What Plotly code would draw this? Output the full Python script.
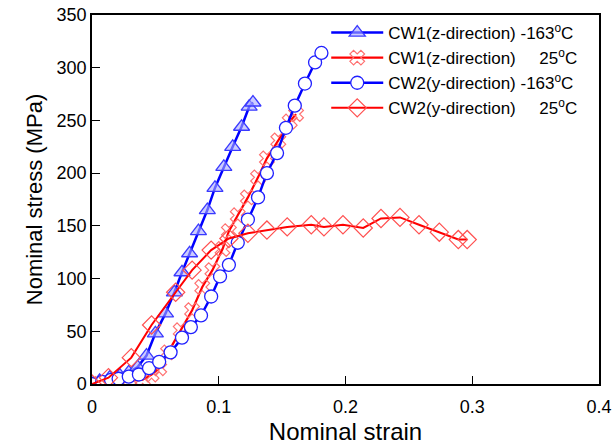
import plotly.graph_objects as go

# CW1 (z-direction) -163°C
s1_strain = [0, 0.006, 0.014, 0.022, 0.029, 0.036, 0.043, 0.050, 0.058, 0.065, 0.071, 0.077, 0.084, 0.091, 0.097, 0.104, 0.111, 0.118, 0.124, 0.127]
s1_stress = [0, 3, 6, 8, 11, 16, 27, 48, 67, 87, 106, 124, 145, 165, 186, 206, 225, 244, 263, 267]

# CW1 (z-direction) 25°C
s2_strain = [0, 0.01, 0.02, 0.03, 0.04, 0.047, 0.053, 0.06, 0.07, 0.079, 0.087, 0.095, 0.103, 0.108, 0.115, 0.123, 0.131, 0.138, 0.147, 0.156, 0.161]
s2_stress = [0, 1, 2, 3, 4, 9, 15, 30, 51, 70, 92, 108, 128, 145, 160, 177, 196, 214, 231, 249, 256]

# CW2 (y-direction) -163°C
s3_strain = [0, 0.008, 0.015, 0.021, 0.029, 0.037, 0.045, 0.053, 0.062, 0.071, 0.078, 0.086, 0.094, 0.101, 0.108, 0.115, 0.123, 0.131, 0.138, 0.146, 0.153, 0.16, 0.168, 0.176, 0.181]
s3_stress = [0, 2, 4, 5, 7, 9, 15, 21, 30, 44, 54, 65, 83, 102, 113, 134, 156, 177, 200, 219, 243, 264, 285, 305, 314]

# CW2 (y-direction) 25°C
s4_strain = [0, 0.013, 0.031, 0.047, 0.066, 0.079, 0.094, 0.108, 0.123, 0.138, 0.154, 0.173, 0.183, 0.198, 0.214, 0.228, 0.243, 0.258, 0.274, 0.289, 0.296]
s4_stress = [0, 6, 25, 56, 87, 108, 127, 138, 143, 146, 149, 151, 149, 151, 148, 157, 158, 151, 144, 137, 137]

x_ticks = [0, 0.1, 0.2, 0.3, 0.4]
x_labels = ["0", "0.1", "0.2", "0.3", "0.4"]
y_ticks = [0, 50, 100, 150, 200, 250, 300, 350]

names = [
    "CW1(z-direction) -163<sup>o</sup>C",
    "CW1(z-direction)\u00a0\u00a0\u00a0\u00a0\u00a025<sup>o</sup>C",
    "CW2(y-direction) -163<sup>o</sup>C",
    "CW2(y-direction)\u00a0\u00a0\u00a0\u00a0\u00a025<sup>o</sup>C",
]

fig = go.Figure()
fig.add_trace(go.Scatter(
    x=s1_strain, y=s1_stress, mode="lines+markers", name=names[0],
    line=dict(color="#0000ff", width=2.5),
    marker=dict(symbol="triangle-up", size=14, color="rgba(170,170,255,0.6)",
                line=dict(color="#3a3aff", width=1.3))))
fig.add_trace(go.Scatter(
    x=s2_strain, y=s2_stress, mode="lines+markers", name=names[1],
    line=dict(color="#ff0000", width=2.2),
    marker=dict(symbol="x-open", size=13, color="#ff7070",
                line=dict(color="#ff7070", width=1.2))))
fig.add_trace(go.Scatter(
    x=s3_strain, y=s3_stress, mode="lines+markers", name=names[2],
    line=dict(color="#0000ff", width=2.5),
    marker=dict(symbol="circle", size=13, color="white",
                line=dict(color="#2020ff", width=1.3))))
fig.add_trace(go.Scatter(
    x=s4_strain, y=s4_stress, mode="lines+markers", name=names[3],
    line=dict(color="#ff0000", width=2),
    marker=dict(symbol="diamond-open", size=14, color="#ff5050",
                line=dict(color="#ff5050", width=1.2))))

fig.update_layout(
    width=616, height=445,
    margin=dict(l=92, r=17, t=15, b=61),
    paper_bgcolor="white", plot_bgcolor="white",
    font=dict(family="Liberation Sans, Arial, sans-serif", color="black"),
    legend=dict(x=0.462, y=1.0, xanchor="left", yanchor="top",
                bgcolor="rgba(255,255,255,0)", font=dict(size=17),
                tracegroupgap=0, itemwidth=52),
    showlegend=True,
)
fig.update_xaxes(
    range=[0, 0.4], tickvals=x_ticks, ticktext=x_labels, automargin=False,
    showgrid=False, zeroline=False, showline=True, linecolor="black", linewidth=1.5,
    mirror=True, ticks="inside", ticklen=8, tickcolor="black",
    tickfont=dict(size=18), ticklabelstandoff=6,
    title=dict(text="Nominal strain", font=dict(size=24), standoff=14),
)
fig.update_yaxes(
    range=[0, 350], tickvals=y_ticks, automargin=False,
    showgrid=False, zeroline=False, showline=True, linecolor="black", linewidth=1.5,
    mirror=True, ticks="inside", ticklen=8, tickcolor="black",
    tickfont=dict(size=18),
    title=dict(text="Nominal stress (MPa)", font=dict(size=22), standoff=8),
)
fig.write_html("out.html", config={"displayModeBar": False},
               post_script="document.body.style.margin='0';document.body.style.overflow='hidden';")
